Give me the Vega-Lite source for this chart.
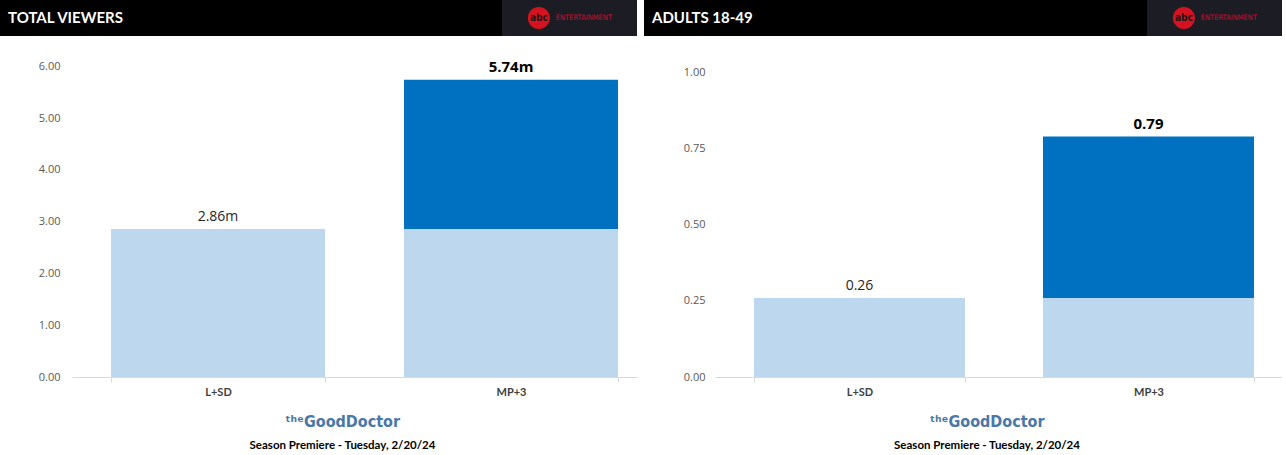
{
  "$schema": "https://vega.github.io/schema/vega-lite/v6.json",
  "padding": 0,
  "background": "white",
  "spacing": 7,
  "config": {
    "view": {"stroke": null},
    "font": "Lato",
    "concat": {"spacing": 0}
  },
  "datasets": {
    "tv": [
      {"cat": "L+SD", "seg": "L+SD", "value": 2.86},
      {"cat": "MP+3", "seg": "L+SD", "value": 2.86},
      {"cat": "MP+3", "seg": "Lift", "value": 2.88}
    ],
    "demo": [
      {"cat": "L+SD", "seg": "L+SD", "value": 0.26},
      {"cat": "MP+3", "seg": "L+SD", "value": 0.26},
      {"cat": "MP+3", "seg": "Lift", "value": 0.53}
    ],
    "logo": [
      {"part": "abc"},
      {"part": "ENTERTAINMENT"}
    ],
    "hdr": [{"k": 1}]
  },
  "hconcat": [
    {
      "spacing": 0,
      "vconcat": [
        {
          "spacing": 0,
          "hconcat": [
            {
              "width": 502, "height": 36,
              "data": {"name": "hdr"},
              "view": {"fill": "black", "stroke": null},
              "title": {"text": "TOTAL VIEWERS", "anchor": "start", "frame": "group", "offset": -26, "dx": 8, "color": "white", "font": "Lato", "fontSize": 15, "fontWeight": "bold"},
              "mark": {"type": "rect", "color": "black"},
              "encoding": {}
            },
            {
              "width": 135, "height": 36,
              "data": {"name": "logo"},
              "view": {"fill": "#1c1c25", "stroke": null},
              "encoding": {
                "x": {"field": "part", "type": "nominal", "axis": null, "scale": {"type": "point", "domain": ["abc", "ENTERTAINMENT"], "padding": 1.114, "align": 0.41}}
              },
              "layer": [
                {"transform": [{"filter": "datum.part == 'abc'"}], "mark": {"type": "point", "shape": "circle", "filled": true, "size": 484, "color": "#d5121f", "opacity": 1}},
                {"transform": [{"filter": "datum.part == 'abc'"}], "mark": {"type": "text", "fontSize": 10, "fontWeight": "bold", "color": "#1a1a1a", "font": "DejaVu Sans Condensed"}, "encoding": {"text": {"field": "part"}}},
                {"transform": [{"filter": "datum.part == 'ENTERTAINMENT'"}], "mark": {"type": "text", "fontSize": 7.5, "color": "#c8102e", "font": "DejaVu Sans Condensed"}, "encoding": {"text": {"field": "part"}}}
              ]
            }
          ]
        },
        {
          "width": 637, "height": 341,
          "data": {"name": "tv"},
          "title": {"text": "ᵗʰᵉGoodDoctor", "subtitle": "Season Premiere - Tuesday, 2/20/24", "orient": "bottom", "anchor": "middle", "frame": "group", "offset": 17, "dx": 24, "color": "#4a78a8", "font": "DejaVu Sans Condensed", "fontSize": 16, "fontWeight": "bold", "subtitleFont": "Lato", "subtitleFontSize": 11.5, "subtitleFontWeight": "bold", "subtitleColor": "#000000", "subtitlePadding": 10},
          "encoding": {
            "x": {"field": "cat", "type": "nominal", "title": null, "scale": {"paddingInner": 0.2696, "paddingOuter": 0.2218, "align": 0.854},
              "axis": {"labelAngle": 0, "labelFontSize": 11, "labelFontWeight": "bold", "labelColor": "#404040", "domainColor": "#d9d9d9", "domainDash": [565, 72], "domainDashOffset": 565, "tickColor": "#d9d9d9", "tickSize": 5, "tickBand": "extent", "labelPadding": 4}}
          },
          "layer": [
            {
              "mark": {"type": "bar"},
              "encoding": {
                "y": {"field": "value", "type": "quantitative", "stack": "zero", "title": null, "scale": {"domain": [0, 6.587], "nice": false},
                  "axis": {"values": [0, 1, 2, 3, 4, 5, 6], "format": ".2f", "grid": false, "ticks": false, "domain": false, "labelColor": "#595959", "labelFontSize": 11, "labelFont": "Open Sans", "labelPadding": 12, "offset": -72}},
                "color": {"field": "seg", "type": "nominal", "legend": null, "scale": {"domain": ["L+SD", "Lift"], "range": ["#BDD7EE", "#0070C0"]}},
                "order": {"field": "seg", "sort": "ascending"}
              }
            },
            {
              "transform": [
                {"aggregate": [{"op": "sum", "field": "value", "as": "total"}], "groupby": ["cat"]},
                {"filter": "datum.cat == 'L+SD'"},
                {"calculate": "format(datum.total, '.2f') + 'm'", "as": "label"}
              ],
              "mark": {"type": "text", "baseline": "alphabetic", "dy": -8, "fontSize": 14, "color": "#262626", "font": "Open Sans"},
              "encoding": {"y": {"field": "total", "type": "quantitative"}, "text": {"field": "label"}}
            },
            {
              "transform": [
                {"aggregate": [{"op": "sum", "field": "value", "as": "total"}], "groupby": ["cat"]},
                {"filter": "datum.cat == 'MP+3'"},
                {"calculate": "format(datum.total, '.2f') + 'm'", "as": "label"}
              ],
              "mark": {"type": "text", "baseline": "alphabetic", "dy": -8, "fontSize": 15, "fontWeight": "bold", "color": "#000000", "font": "Open Sans"},
              "encoding": {"y": {"field": "total", "type": "quantitative"}, "text": {"field": "label"}}
            }
          ]
        }
      ]
    },
    {
      "spacing": 0,
      "vconcat": [
        {
          "spacing": 0,
          "hconcat": [
            {
              "width": 503, "height": 36,
              "data": {"name": "hdr"},
              "view": {"fill": "black", "stroke": null},
              "title": {"text": "ADULTS 18-49", "anchor": "start", "frame": "group", "offset": -26, "dx": 8, "color": "white", "font": "Lato", "fontSize": 15, "fontWeight": "bold"},
              "mark": {"type": "rect", "color": "black"},
              "encoding": {}
            },
            {
              "width": 135, "height": 36,
              "data": {"name": "logo"},
              "view": {"fill": "#1c1c25", "stroke": null},
              "encoding": {
                "x": {"field": "part", "type": "nominal", "axis": null, "scale": {"type": "point", "domain": ["abc", "ENTERTAINMENT"], "padding": 1.114, "align": 0.41}}
              },
              "layer": [
                {"transform": [{"filter": "datum.part == 'abc'"}], "mark": {"type": "point", "shape": "circle", "filled": true, "size": 484, "color": "#d5121f", "opacity": 1}},
                {"transform": [{"filter": "datum.part == 'abc'"}], "mark": {"type": "text", "fontSize": 10, "fontWeight": "bold", "color": "#1a1a1a", "font": "DejaVu Sans Condensed"}, "encoding": {"text": {"field": "part"}}},
                {"transform": [{"filter": "datum.part == 'ENTERTAINMENT'"}], "mark": {"type": "text", "fontSize": 7.5, "color": "#c8102e", "font": "DejaVu Sans Condensed"}, "encoding": {"text": {"field": "part"}}}
              ]
            }
          ]
        },
        {
          "width": 638, "height": 341,
          "data": {"name": "demo"},
          "title": {"text": "ᵗʰᵉGoodDoctor", "subtitle": "Season Premiere - Tuesday, 2/20/24", "orient": "bottom", "anchor": "middle", "frame": "group", "offset": 17, "dx": 24, "color": "#4a78a8", "font": "DejaVu Sans Condensed", "fontSize": 16, "fontWeight": "bold", "subtitleFont": "Lato", "subtitleFontSize": 11.5, "subtitleFontWeight": "bold", "subtitleColor": "#000000", "subtitlePadding": 10},
          "encoding": {
            "x": {"field": "cat", "type": "nominal", "title": null, "scale": {"paddingInner": 0.27, "paddingOuter": 0.2388, "align": 0.797},
              "axis": {"labelAngle": 0, "labelFontSize": 11, "labelFontWeight": "bold", "labelColor": "#404040", "domainColor": "#d9d9d9", "domainDash": [567, 71], "domainDashOffset": 567, "tickColor": "#d9d9d9", "tickSize": 5, "tickBand": "extent", "labelPadding": 4}}
          },
          "layer": [
            {
              "mark": {"type": "bar"},
              "encoding": {
                "y": {"field": "value", "type": "quantitative", "stack": "zero", "title": null, "scale": {"domain": [0, 1.1206], "nice": false},
                  "axis": {"values": [0, 0.25, 0.5, 0.75, 1], "format": ".2f", "grid": false, "ticks": false, "domain": false, "labelColor": "#595959", "labelFontSize": 11, "labelFont": "Open Sans", "labelPadding": 10, "offset": -71}},
                "color": {"field": "seg", "type": "nominal", "legend": null, "scale": {"domain": ["L+SD", "Lift"], "range": ["#BDD7EE", "#0070C0"]}},
                "order": {"field": "seg", "sort": "ascending"}
              }
            },
            {
              "transform": [
                {"aggregate": [{"op": "sum", "field": "value", "as": "total"}], "groupby": ["cat"]},
                {"filter": "datum.cat == 'L+SD'"}
              ],
              "mark": {"type": "text", "baseline": "alphabetic", "dy": -8, "fontSize": 14, "color": "#262626", "font": "Open Sans"},
              "encoding": {"y": {"field": "total", "type": "quantitative"}, "text": {"field": "total", "format": ".2f"}}
            },
            {
              "transform": [
                {"aggregate": [{"op": "sum", "field": "value", "as": "total"}], "groupby": ["cat"]},
                {"filter": "datum.cat == 'MP+3'"}
              ],
              "mark": {"type": "text", "baseline": "alphabetic", "dy": -8, "fontSize": 15, "fontWeight": "bold", "color": "#000000", "font": "Open Sans"},
              "encoding": {"y": {"field": "total", "type": "quantitative"}, "text": {"field": "total", "format": ".2f"}}
            }
          ]
        }
      ]
    }
  ]
}
